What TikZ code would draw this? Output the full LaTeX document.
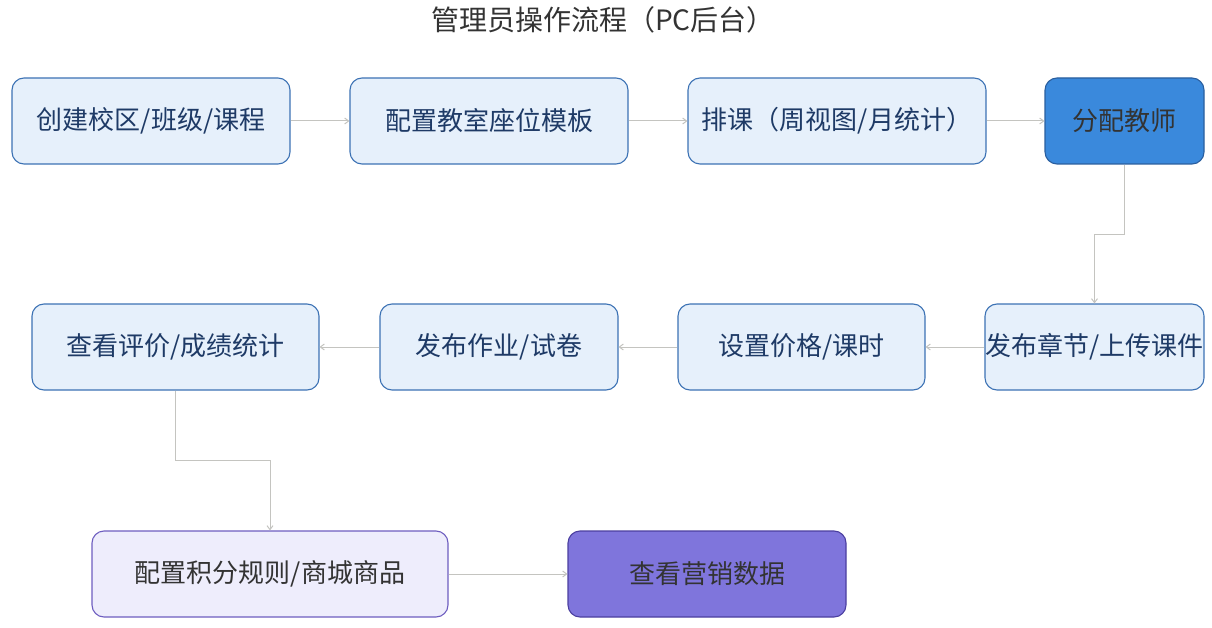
\documentclass[tikz,border=0pt]{standalone}
\usepackage{fontspec}
\setmainfont{Noto Sans CJK SC}
\usepackage{xcolor}
\usetikzlibrary{arrows.meta}
\definecolor{boxfill}{HTML}{E6F0FB}
\definecolor{boxline}{HTML}{3C72B4}
\definecolor{boxtext}{HTML}{1E3A66}
\definecolor{teachfill}{HTML}{3A89DC}
\definecolor{teachline}{HTML}{2A5E9E}
\definecolor{mallfill}{HTML}{EEEDFC}
\definecolor{mallline}{HTML}{6E5EC0}
\definecolor{mktfill}{HTML}{7F75DC}
\definecolor{mktline}{HTML}{4B3FA0}
\definecolor{linkgray}{HTML}{C4C4C0}

\begin{document}
\begin{tikzpicture}[x=1pt, y=-1pt,
    stepbox/.style={draw=boxline, line width=1.1pt, fill=boxfill, text=boxtext, rounded corners=12pt,
        minimum height=86pt, font=\fontsize{26}{30}\selectfont, inner sep=0pt},
    link/.style={draw=linkgray, line width=1pt, -{Straight Barb[length=4pt,width=6pt]}}]
    \useasboundingbox (0,0) rectangle (1212,628);

    % Title
    \node[text=black!80, font=\fontsize{28}{32}\selectfont] (title) at (603,20) {管理员操作流程（PC后台）};

    % First row - setup
    \node[stepbox, minimum width=278pt] (campus) at (151,121) {创建校区/班级/课程};
    \node[stepbox, minimum width=278pt] (seats) at (489,121) {配置教室座位模板};
    \node[stepbox, minimum width=298pt] (sched) at (837,121) {排课（周视图/月统计）};
    \node[stepbox, minimum width=159pt, fill=teachfill, draw=teachline, text=black!80] (teacher) at (1124.5,121) {分配教师};

    % Second row - courses (right to left)
    \node[stepbox, minimum width=219pt] (chapter) at (1094.5,347) {发布章节/上传课件};
    \node[stepbox, minimum width=247pt] (price) at (801.5,347) {设置价格/课时};
    \node[stepbox, minimum width=238pt] (homework) at (499,347) {发布作业/试卷};
    \node[stepbox, minimum width=287pt] (review) at (175.5,347) {查看评价/成绩统计};

    % Third row - marketing
    \node[stepbox, minimum width=356pt, fill=mallfill, draw=mallline, text=black!80] (points) at (270,574) {配置积分规则/商城商品};
    \node[stepbox, minimum width=278pt, fill=mktfill, draw=mktline, text=black!80] (market) at (707,574) {查看营销数据};

    % Links
    \draw[link] (campus) -- (seats);
    \draw[link] (seats) -- (sched);
    \draw[link] (sched) -- (teacher);
    \draw[link] (teacher.south) -- ++(0,70) -| (chapter.north);
    \draw[link] (chapter) -- (price);
    \draw[link] (price) -- (homework);
    \draw[link] (homework) -- (review);
    \draw[link] (review.south) -- ++(0,70) -| (points.north);
    \draw[link] (points) -- (market);

\end{tikzpicture}
\end{document}
